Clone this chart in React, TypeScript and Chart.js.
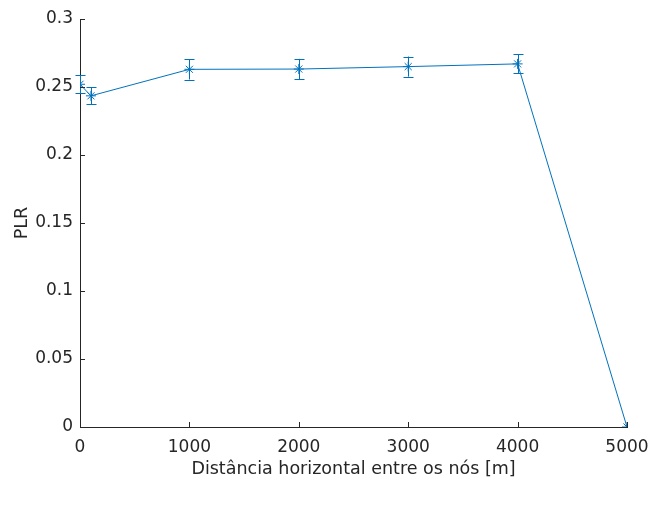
import React, { useEffect, useRef } from "react";
import { Chart, registerables } from "chart.js";

Chart.register(...registerables);

const distances = [0, 100, 1000, 2000, 3000, 4000, 5000];
const plrValues = [0.252, 0.2435, 0.263, 0.2632, 0.265, 0.267, 0];
const plrErrors = [0.0065, 0.0063, 0.0075, 0.0075, 0.0074, 0.007, 0];
const xTickStep = 1000;
const yTickStep = 0.05;

const LINE_COLOR = "#0072BD";
const AXIS_COLOR = "#262626";
const FONT = "'DejaVu Sans', sans-serif";

const errorBarPlugin = {
  id: "errorBars",
  afterDatasetsDraw(chart: any) {
    const { ctx, scales } = chart;
    const xs = scales.x;
    const ys = scales.y;
    ctx.save();
    ctx.strokeStyle = LINE_COLOR;
    ctx.lineWidth = 1;
    distances.forEach((d, i) => {
      const e = plrErrors[i];
      if (!e) return;
      const px = Math.round(xs.getPixelForValue(d)) + 0.5;
      const top = ys.getPixelForValue(plrValues[i] + e);
      const bot = ys.getPixelForValue(plrValues[i] - e);
      const cap = 5;
      ctx.beginPath();
      ctx.moveTo(px, top);
      ctx.lineTo(px, bot);
      ctx.moveTo(px - cap, Math.round(top) + 0.5);
      ctx.lineTo(px + cap, Math.round(top) + 0.5);
      ctx.moveTo(px - cap, Math.round(bot) + 0.5);
      ctx.lineTo(px + cap, Math.round(bot) + 0.5);
      ctx.stroke();
    });
    ctx.restore();
  },
};

const inwardTicksPlugin = {
  id: "inwardTicks",
  afterDraw(chart: any) {
    const { ctx, scales, chartArea } = chart;
    const len = 5;
    ctx.save();
    ctx.strokeStyle = AXIS_COLOR;
    ctx.lineWidth = 1;
    ctx.beginPath();
    scales.x.ticks.forEach((t: any) => {
      const px = Math.round(scales.x.getPixelForValue(t.value)) + 0.5;
      ctx.moveTo(px, chartArea.bottom);
      ctx.lineTo(px, chartArea.bottom - len);
    });
    scales.y.ticks.forEach((t: any) => {
      const py = Math.round(scales.y.getPixelForValue(t.value)) + 0.5;
      ctx.moveTo(chartArea.left, py);
      ctx.lineTo(chartArea.left + len, py);
    });
    ctx.stroke();
    ctx.restore();
  },
};

export default function App() {
  const ref = useRef<HTMLCanvasElement>(null);

  useEffect(() => {
    if (!ref.current) return;
    const chart = new Chart(ref.current, {
      type: "line",
      data: {
        datasets: [
          {
            label: "PLR",
            data: distances.map((d, i) => ({ x: d, y: plrValues[i] })),
            borderColor: LINE_COLOR,
            backgroundColor: LINE_COLOR,
            borderWidth: 1,
            pointStyle: "star",
            pointRadius: 5,
            pointBorderWidth: 1,
            pointBorderColor: LINE_COLOR,
            tension: 0,
          },
        ],
      },
      options: {
        animation: false,
        responsive: false,
        layout: { padding: { left: 0, top: 19, right: 27, bottom: 0 } },
        plugins: { legend: { display: false }, tooltip: { enabled: false } },
        scales: {
          x: {
            type: "linear",
            min: 0,
            max: 5000,
            afterFit: (s: any) => {
              s.height = 79;
              s.paddingLeft = 0;
              s.paddingRight = 0;
            },
            ticks: {
              stepSize: xTickStep,
              color: AXIS_COLOR,
              font: { family: FONT, size: 17 },
              padding: 10,
              maxRotation: 0,
              callback: (v: any) => String(v),
            },
            grid: { display: false, drawTicks: false },
            border: { display: true, color: AXIS_COLOR, width: 1 },
            title: {
              display: true,
              text: "Distância horizontal entre os nós [m]",
              color: AXIS_COLOR,
              font: { family: FONT, size: 17.5 },
              padding: { top: 0, bottom: 26 },
            },
          },
          y: {
            type: "linear",
            min: 0,
            max: 0.3,
            afterFit: (s: any) => {
              s.width = 80;
            },
            ticks: {
              stepSize: yTickStep,
              color: AXIS_COLOR,
              font: { family: FONT, size: 17 },
              padding: 7,
              callback: (v: any) => String(Number(Number(v).toFixed(4))),
            },
            grid: { display: false, drawTicks: false },
            border: { display: true, color: AXIS_COLOR, width: 1 },
            title: {
              display: true,
              text: "PLR",
              color: AXIS_COLOR,
              font: { family: FONT, size: 17.5 },
              padding: { top: 12, bottom: 0 },
            },
          },
        },
      },
      plugins: [errorBarPlugin, inwardTicksPlugin],
    });
    return () => chart.destroy();
  }, []);

  return (
    <div style={{ position: "fixed", left: 0, top: 0, width: 654, height: 506, background: "#fff" }}>
      <canvas ref={ref} width={654} height={506} style={{ display: "block" }} />
    </div>
  );
}
